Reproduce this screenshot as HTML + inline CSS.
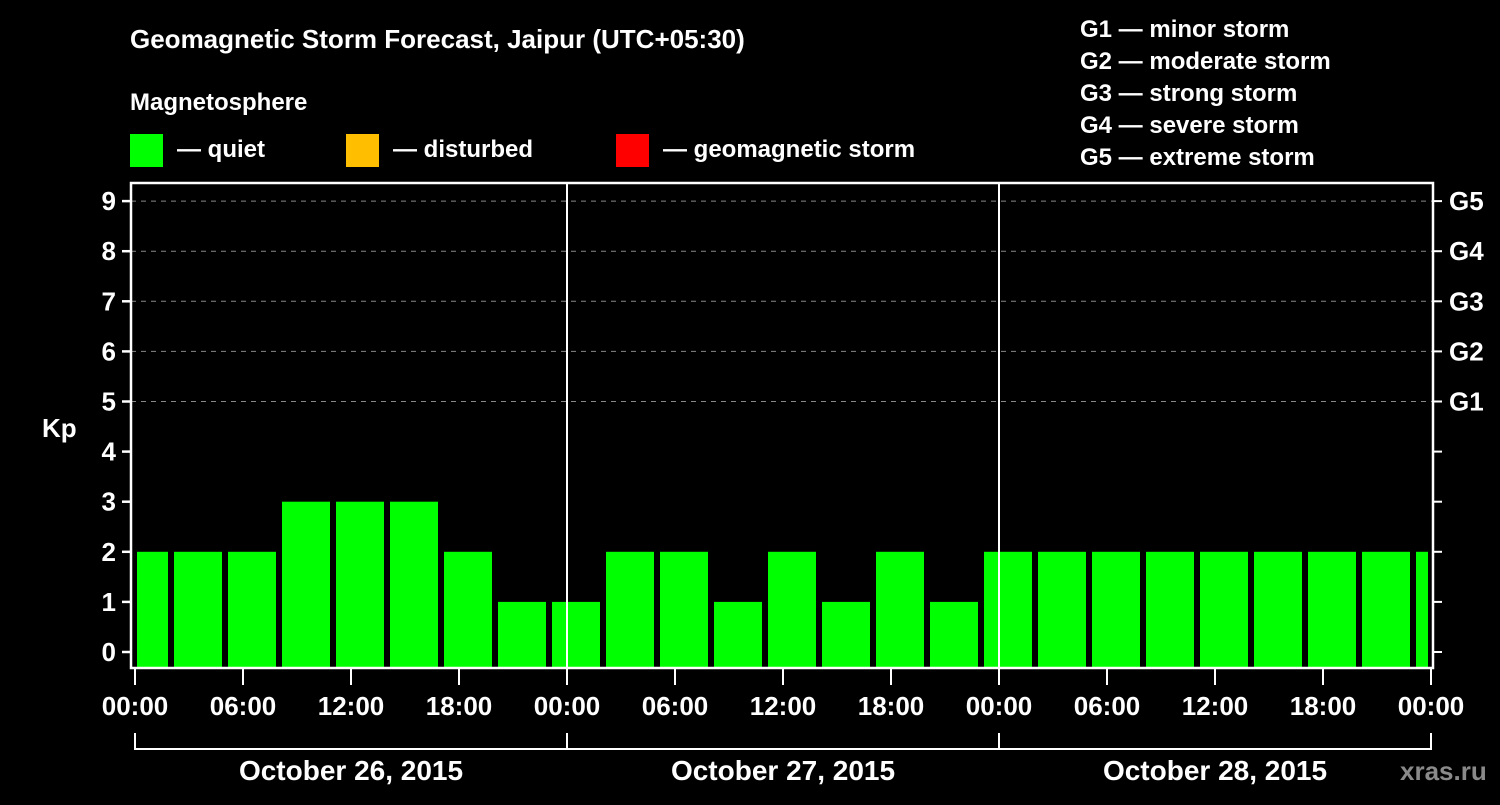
<!DOCTYPE html>
<html><head><meta charset="utf-8"><style>
body{margin:0;background:#000;width:1500px;height:800px;overflow:hidden}
svg text{font-family:"Liberation Sans",sans-serif;font-weight:bold;fill:#fff}
</style></head><body>
<svg id="c" width="1500" height="800">
<text x="130" y="48" font-size="26">Geomagnetic Storm Forecast, Jaipur (UTC+05:30)</text>
<text x="130" y="110" font-size="24">Magnetosphere</text>
<rect x="130" y="134" width="33" height="33" fill="#00ff00"/>
<text x="177" y="157" font-size="24">— quiet</text>
<rect x="346" y="134" width="33" height="33" fill="#ffbf00"/>
<text x="393" y="157" font-size="24">— disturbed</text>
<rect x="616" y="134" width="33" height="33" fill="#ff0000"/>
<text x="663" y="157" font-size="24">— geomagnetic storm</text>
<g font-size="24">
<text x="1080" y="37">G1 — minor storm</text>
<text x="1080" y="69">G2 — moderate storm</text>
<text x="1080" y="101">G3 — strong storm</text>
<text x="1080" y="133">G4 — severe storm</text>
<text x="1080" y="165">G5 — extreme storm</text>
</g>
<text x="42" y="437" font-size="26">Kp</text>
<text x="1400" y="780" font-size="26" fill="#888" style="fill:#8a8a8a">xras.ru</text>
<g id="plot"></g>
</svg>
<script>
const kpValues=[2,2,2,3,3,3,2,1,1,2,2,1,2,1,2,1,2,2,2,2,2,2,2,2,2];
const yTicks=[0,1,2,3,4,5,6,7,8,9];
const gLabels=["G1","G2","G3","G4","G5"];
const xLabels=["00:00","06:00","12:00","18:00","00:00","06:00","12:00","18:00","00:00","06:00","12:00","18:00","00:00"];
const dayLabels=["October 26, 2015","October 27, 2015","October 28, 2015"];
const NS="http://www.w3.org/2000/svg";
const L=131,R=1433,T=183,B=668,X0=135,PXH=18;
const y=v=>652-50.1*v;
const x=h=>X0+h*PXH;
const g=document.getElementById('plot');
function el(t,a){const e=document.createElementNS(NS,t);for(const k in a)e.setAttribute(k,a[k]);g.appendChild(e);return e;}
// grid
yTicks.filter(v=>v>=5).forEach(v=>{const e=el('line',{x1:L,x2:R,y1:y(v),y2:y(v),stroke:'#888','stroke-dasharray':'5,5'});

});
// bars
kpValues.forEach((v,i)=>{const h0=-0.5+3*i;let x1=x(h0)-6,x2=x1+48;x1=Math.max(x1,137);x2=Math.min(x2,1428);
const c=v>=5?'#ff0000':(v>=4?'#ffbf00':'#00ff00');
const r=el('rect',{x:x1,y:y(v),width:x2-x1,height:B-y(v),fill:c});

});
// frame
const f=el('rect',{x:L,y:T,width:R-L,height:B-T,fill:'none',stroke:'#fff','stroke-width':2.5});


[1,2].forEach(d=>{const e=el('line',{x1:x(24*d),x2:x(24*d),y1:T,y2:B,stroke:'#fff','stroke-width':2});

});
// y ticks
yTicks.forEach(v=>{el('line',{x1:122,x2:L,y1:y(v),y2:y(v),stroke:'#fff','stroke-width':2.5});
el('line',{x1:R,x2:1442,y1:y(v),y2:y(v),stroke:'#fff','stroke-width':2});
const t=el('text',{x:116,y:y(v)+9,'font-size':26,'text-anchor':'end'});t.textContent=v;

});
gLabels.forEach((s,i)=>{const t=el('text',{x:1449,y:y(5+i)+9,'font-size':26});t.textContent=s;

});
// x ticks
xLabels.forEach((s,i)=>{const xx=x(6*i);el('line',{x1:xx,x2:xx,y1:B,y2:685,stroke:'#fff','stroke-width':2});
const t=el('text',{x:xx,y:715,'font-size':26,'text-anchor':'middle'});t.textContent=s;

});
el('line',{x1:x(0),x2:x(72),y1:749,y2:749,stroke:'#fff','stroke-width':2});
[0,1,2,3].forEach(d=>el('line',{x1:x(24*d),x2:x(24*d),y1:733,y2:750,stroke:'#fff','stroke-width':2}));
dayLabels.forEach((s,i)=>{const t=el('text',{x:x(24*i+12),y:780,'font-size':28,'text-anchor':'middle'});t.textContent=s;

});
</script>
</body></html>
